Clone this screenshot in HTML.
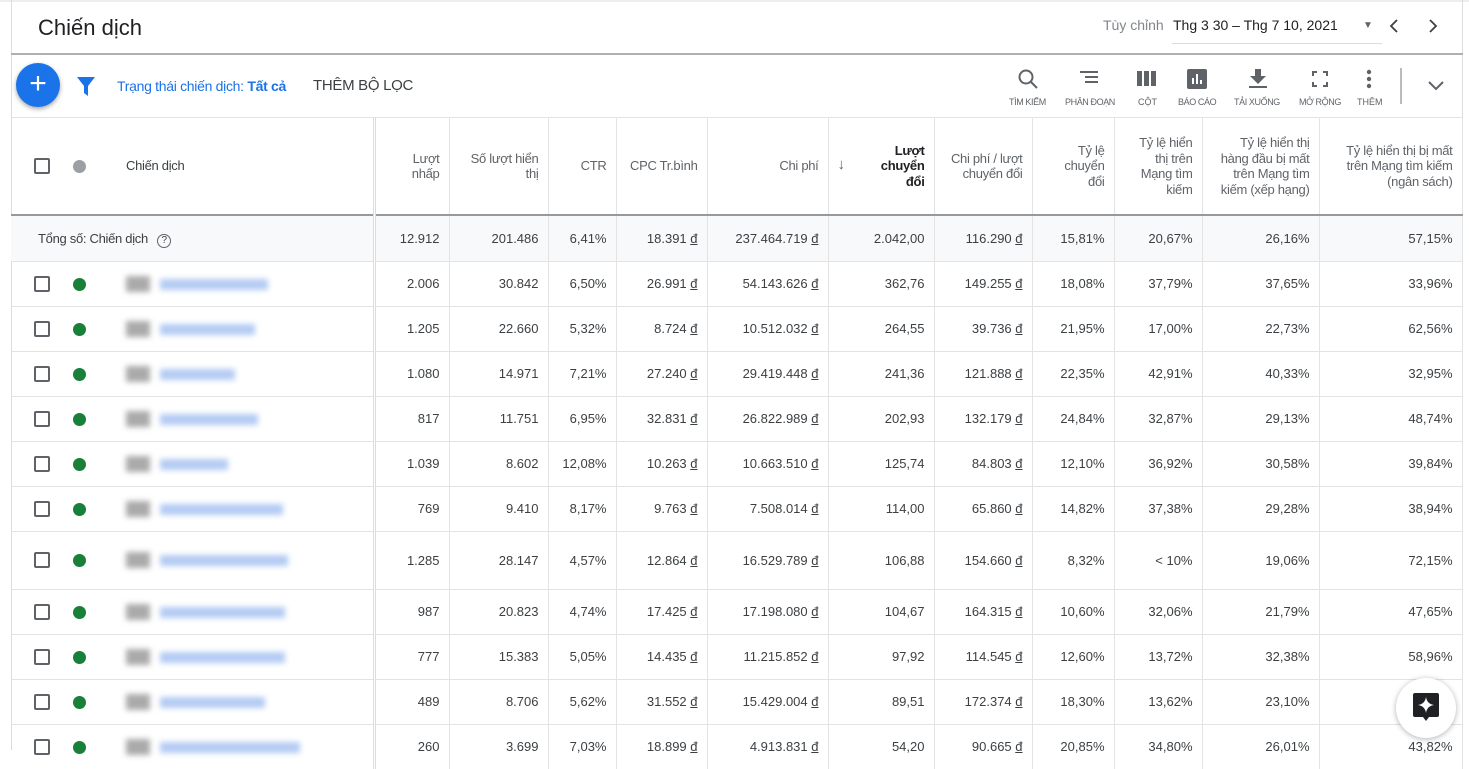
<!DOCTYPE html>
<html><head><meta charset="utf-8">
<style>
*{box-sizing:border-box;margin:0;padding:0}
body{width:1469px;height:750px;overflow:hidden;background:#fff;font-family:"Liberation Sans",Arial,sans-serif;color:#3c4043;position:relative}
.frame{position:absolute;left:11px;top:0;width:1452px;height:750px;border-left:1px solid #dadce0;border-right:1px solid #dadce0}
.topline{position:absolute;left:0;top:0;width:1469px;height:2px;background:#eee}
.title{position:absolute;left:38px;top:15px;font-size:22px;color:#202124}
.sep{position:absolute;left:11px;top:53px;width:1452px;height:2px;background:#b0b0b0}
.date{position:absolute;top:17px;font-size:14px}
.fab{position:absolute;left:16px;top:63px;width:44px;height:44px;border-radius:50%;background:#1a73e8;box-shadow:0 2px 5px rgba(0,0,0,.35);color:#fff;font-size:30px;line-height:42px;text-align:center}
.tb{position:absolute;top:0;font-size:9px;color:#5f6368;text-align:center}
table{position:absolute;left:11px;top:118px;border-collapse:collapse;table-layout:fixed;width:1451px;font-size:13px}
td,th{border-right:1px solid #e3e3e3;text-align:right;padding:0 9px;white-space:nowrap;overflow:hidden}
th{font-weight:normal;font-size:13px;color:#5f6368;line-height:15.5px;white-space:nowrap;vertical-align:middle;height:97px;border-bottom:2px solid #999;letter-spacing:-0.3px}
tr.d td{border-top:1px solid #e3e3e3;height:45px}
tr.t td{background:#f8f9fa;height:46px;border-bottom:1px solid #e3e3e3}
td.first,th.first{border-right:3px double #dadce0;text-align:left;padding:0;position:relative}
.cb{position:absolute;left:23px;width:16px;height:16px;border:2px solid #5f6368;border-radius:2px;top:50%;margin-top:-8px}
.dot{position:absolute;left:62px;width:13px;height:13px;border-radius:50%;background:#188038;top:50%;margin-top:-6px}
.gsq{position:absolute;left:115px;width:24px;height:16px;background:#aaa;filter:blur(3px);top:50%;margin-top:-8px}
.bl{position:absolute;left:149px;height:11px;background:#b3cbf3;filter:blur(3px);top:50%;margin-top:-5px}
u{text-decoration:underline}
</style></head><body>
<div class="topline"></div>
<div class="frame"></div>
<div class="title">Chiến dịch</div>
<div class="date" style="left:1103px;color:#80868b">Tùy chỉnh</div>
<div class="date" style="left:1173px;color:#202124">Thg 3 30 – Thg 7 10, 2021</div>
<div style="position:absolute;left:1172px;top:43px;width:210px;height:1px;background:#dadce0"></div>
<div style="position:absolute;left:1363px;top:20px;font-size:10px;color:#5f6368">▼</div>
<svg style="position:absolute;left:1389px;top:19px" width="10" height="14"><path d="M8 1L2 7L8 13" fill="none" stroke="#3c4043" stroke-width="1.8"/></svg>
<svg style="position:absolute;left:1428px;top:19px" width="10" height="14"><path d="M2 1L8 7L2 13" fill="none" stroke="#3c4043" stroke-width="1.8"/></svg>
<div class="sep"></div>
<div class="fab">+</div>
<svg style="position:absolute;left:77px;top:77px" width="18" height="20"><path d="M0 0H18L11 9V19L7 16V9Z" fill="#1a73e8"/></svg>
<div style="position:absolute;left:117px;top:78px;font-size:14px;color:#1a73e8;letter-spacing:-0.3px">Trạng thái chiến dịch: <b>Tất cả</b></div>
<div style="position:absolute;left:313px;top:77px;font-size:15px;color:#3c4043;letter-spacing:-0.3px">THÊM BỘ LỌC</div>
<div style="position:absolute;left:0;top:66px;width:1469px;height:45px">
<svg style="position:absolute;left:1017px;top:2px" width="22" height="22"><circle cx="9" cy="9" r="6.5" fill="none" stroke="#5f6368" stroke-width="2"/><path d="M14 14L20 20" stroke="#5f6368" stroke-width="2"/></svg>
<div class="tb" style="left:1009px;top:31px;letter-spacing:-0.4px">TÌM KIẾM</div>
<svg style="position:absolute;left:1080px;top:5px" width="20" height="14"><path d="M0 1H18M5 6H18M5 11H18" stroke="#5f6368" stroke-width="2"/></svg>
<div class="tb" style="left:1065px;top:31px;letter-spacing:-0.4px">PHÂN ĐOẠN</div>
<svg style="position:absolute;left:1137px;top:5px" width="20" height="15"><rect x="0" y="0" width="5" height="15" fill="#5f6368"/><rect x="7" y="0" width="5" height="15" fill="#5f6368"/><rect x="14" y="0" width="5" height="15" fill="#5f6368"/></svg>
<div class="tb" style="left:1138px;top:31px">CỘT</div>
<svg style="position:absolute;left:1187px;top:3px" width="20" height="20"><rect width="20" height="20" rx="2" fill="#5f6368"/><path d="M6 15V9M10 15V5M14 15V11" stroke="#fff" stroke-width="2"/></svg>
<div class="tb" style="left:1178px;top:31px;letter-spacing:-0.4px">BÁO CÁO</div>
<svg style="position:absolute;left:1249px;top:3px" width="18" height="20"><path d="M6 0H12V7H17L9 15L1 7H6Z" fill="#5f6368"/><rect y="17" width="18" height="2" fill="#5f6368"/></svg>
<div class="tb" style="left:1234px;top:31px;letter-spacing:-0.4px">TẢI XUỐNG</div>
<svg style="position:absolute;left:1312px;top:5px" width="16" height="16"><path d="M1 5V1H5M11 1H15V5M15 11V15H11M5 15H1V11" fill="none" stroke="#5f6368" stroke-width="2"/></svg>
<div class="tb" style="left:1299px;top:31px;letter-spacing:-0.4px">MỞ RỘNG</div>
<svg style="position:absolute;left:1366px;top:3px" width="6" height="20"><circle cx="3" cy="3" r="2.2" fill="#5f6368"/><circle cx="3" cy="10" r="2.2" fill="#5f6368"/><circle cx="3" cy="17" r="2.2" fill="#5f6368"/></svg>
<div class="tb" style="left:1357px;top:31px">THÊM</div>
<div style="position:absolute;left:1400px;top:2px;width:2px;height:36px;background:#bbb"></div>
<svg style="position:absolute;left:1428px;top:15px" width="16" height="10"><path d="M1 1L8 8L15 1" fill="none" stroke="#5f6368" stroke-width="2"/></svg>
</div>
<div style="position:absolute;left:11px;top:117px;width:1452px;height:1px;background:#e3e3e3"></div>

<table>
<colgroup><col style="width:363px"><col style="width:75px"><col style="width:99px"><col style="width:68px"><col style="width:91px"><col style="width:121px"><col style="width:106px"><col style="width:98px"><col style="width:82px"><col style="width:88px"><col style="width:117px"><col style="width:143px"></colgroup>
<tr><th class="first"><div class="cb"></div><div class="dot" style="background:#9aa0a6"></div><span style="position:absolute;left:115px;top:40px;color:#3c4043">Chiến dịch</span></th>
<th>Lượt<br>nhấp</th><th>Số lượt hiển<br>thị</th><th>CTR</th><th>CPC Tr.bình</th><th>Chi phí</th>
<th><span style="float:left;margin-top:14px;font-size:15px">↓</span><b style="color:#202124">Lượt<br>chuyển<br>đổi</b></th>
<th>Chi phí / lượt<br>chuyển đổi</th><th>Tỷ lệ<br>chuyển<br>đổi</th><th>Tỷ lệ hiển<br>thị trên<br>Mạng tìm<br>kiếm</th><th>Tỷ lệ hiển thị<br>hàng đầu bị mất<br>trên Mạng tìm<br>kiếm (xếp hạng)</th><th>Tỷ lệ hiển thị bị mất<br>trên Mạng tìm kiếm<br>(ngân sách)</th></tr>
<tr class="t"><td class="first"><span style="position:absolute;left:27px;top:15px;letter-spacing:-0.3px">Tổng số: Chiến dịch <span style="display:inline-block;width:14px;height:14px;border:1.5px solid #5f6368;border-radius:50%;font-size:10px;text-align:center;line-height:12px;margin-left:6px;letter-spacing:0">?</span></span></td><td>12.912</td><td>201.486</td><td>6,41%</td><td>18.391 <u>đ</u></td><td>237.464.719 <u>đ</u></td><td>2.042,00</td><td>116.290 <u>đ</u></td><td>15,81%</td><td>20,67%</td><td>26,16%</td><td>57,15%</td></tr>
<tr class="d"><td class="first"><div class="cb"></div><div class="dot"></div><div class="gsq"></div><div class="bl" style="width:108px"></div></td><td>2.006</td><td>30.842</td><td>6,50%</td><td>26.991 <u>đ</u></td><td>54.143.626 <u>đ</u></td><td>362,76</td><td>149.255 <u>đ</u></td><td>18,08%</td><td>37,79%</td><td>37,65%</td><td>33,96%</td></tr>
<tr class="d"><td class="first"><div class="cb"></div><div class="dot"></div><div class="gsq"></div><div class="bl" style="width:95px"></div></td><td>1.205</td><td>22.660</td><td>5,32%</td><td>8.724 <u>đ</u></td><td>10.512.032 <u>đ</u></td><td>264,55</td><td>39.736 <u>đ</u></td><td>21,95%</td><td>17,00%</td><td>22,73%</td><td>62,56%</td></tr>
<tr class="d"><td class="first"><div class="cb"></div><div class="dot"></div><div class="gsq"></div><div class="bl" style="width:75px"></div></td><td>1.080</td><td>14.971</td><td>7,21%</td><td>27.240 <u>đ</u></td><td>29.419.448 <u>đ</u></td><td>241,36</td><td>121.888 <u>đ</u></td><td>22,35%</td><td>42,91%</td><td>40,33%</td><td>32,95%</td></tr>
<tr class="d"><td class="first"><div class="cb"></div><div class="dot"></div><div class="gsq"></div><div class="bl" style="width:98px"></div></td><td>817</td><td>11.751</td><td>6,95%</td><td>32.831 <u>đ</u></td><td>26.822.989 <u>đ</u></td><td>202,93</td><td>132.179 <u>đ</u></td><td>24,84%</td><td>32,87%</td><td>29,13%</td><td>48,74%</td></tr>
<tr class="d"><td class="first"><div class="cb"></div><div class="dot"></div><div class="gsq"></div><div class="bl" style="width:68px"></div></td><td>1.039</td><td>8.602</td><td>12,08%</td><td>10.263 <u>đ</u></td><td>10.663.510 <u>đ</u></td><td>125,74</td><td>84.803 <u>đ</u></td><td>12,10%</td><td>36,92%</td><td>30,58%</td><td>39,84%</td></tr>
<tr class="d"><td class="first"><div class="cb"></div><div class="dot"></div><div class="gsq"></div><div class="bl" style="width:123px"></div></td><td>769</td><td>9.410</td><td>8,17%</td><td>9.763 <u>đ</u></td><td>7.508.014 <u>đ</u></td><td>114,00</td><td>65.860 <u>đ</u></td><td>14,82%</td><td>37,38%</td><td>29,28%</td><td>38,94%</td></tr>
<tr class="d"><td class="first" style="height:58px"><div class="cb"></div><div class="dot"></div><div class="gsq"></div><div class="bl" style="width:128px"></div></td><td>1.285</td><td>28.147</td><td>4,57%</td><td>12.864 <u>đ</u></td><td>16.529.789 <u>đ</u></td><td>106,88</td><td>154.660 <u>đ</u></td><td>8,32%</td><td>&lt; 10%</td><td>19,06%</td><td>72,15%</td></tr>
<tr class="d"><td class="first" style="height:44px"><div class="cb"></div><div class="dot"></div><div class="gsq"></div><div class="bl" style="width:125px"></div></td><td>987</td><td>20.823</td><td>4,74%</td><td>17.425 <u>đ</u></td><td>17.198.080 <u>đ</u></td><td>104,67</td><td>164.315 <u>đ</u></td><td>10,60%</td><td>32,06%</td><td>21,79%</td><td>47,65%</td></tr>
<tr class="d"><td class="first"><div class="cb"></div><div class="dot"></div><div class="gsq"></div><div class="bl" style="width:125px"></div></td><td>777</td><td>15.383</td><td>5,05%</td><td>14.435 <u>đ</u></td><td>11.215.852 <u>đ</u></td><td>97,92</td><td>114.545 <u>đ</u></td><td>12,60%</td><td>13,72%</td><td>32,38%</td><td>58,96%</td></tr>
<tr class="d"><td class="first"><div class="cb"></div><div class="dot"></div><div class="gsq"></div><div class="bl" style="width:105px"></div></td><td>489</td><td>8.706</td><td>5,62%</td><td>31.552 <u>đ</u></td><td>15.429.004 <u>đ</u></td><td>89,51</td><td>172.374 <u>đ</u></td><td>18,30%</td><td>13,62%</td><td>23,10%</td><td>44,00%</td></tr>
<tr class="d"><td class="first"><div class="cb"></div><div class="dot"></div><div class="gsq"></div><div class="bl" style="width:140px"></div></td><td>260</td><td>3.699</td><td>7,03%</td><td>18.899 <u>đ</u></td><td>4.913.831 <u>đ</u></td><td>54,20</td><td>90.665 <u>đ</u></td><td>20,85%</td><td>34,80%</td><td>26,01%</td><td>43,82%</td></tr>
</table>
<div style="position:absolute;left:1396px;top:678px;width:60px;height:60px;border-radius:50%;background:#fff;box-shadow:0 1px 6px rgba(0,0,0,.3)"></div>
<svg style="position:absolute;left:1413px;top:693px" width="26" height="30"><path d="M2 0H24Q26 0 26 2V22Q26 24 24 24H16L13 28L10 24H2Q0 24 0 22V2Q0 0 2 0Z" fill="#202124"/><path d="M13 4Q14 11 21 12Q14 13 13 20Q12 13 5 12Q12 11 13 4Z" fill="#fff"/></svg>
</body></html>
